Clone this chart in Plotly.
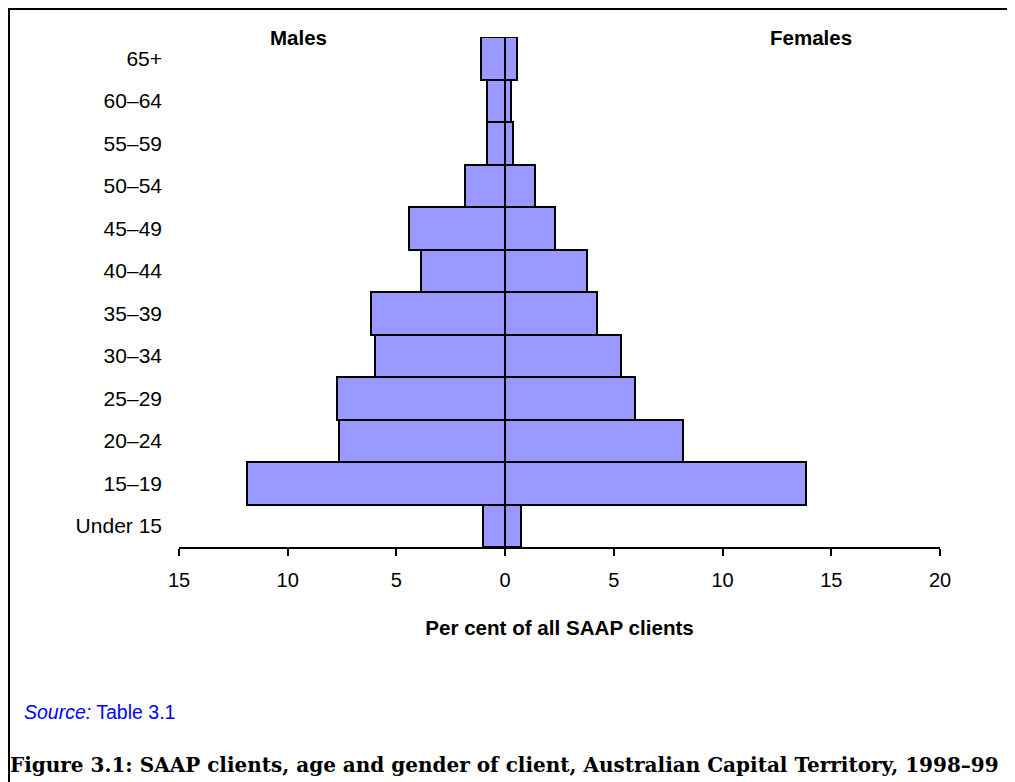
import plotly.graph_objects as go

age_groups = ["Under 15", "15–19", "20–24", "25–29", "30–34", "35–39",
              "40–44", "45–49", "50–54", "55–59", "60–64", "65+"]
males = [1.04, 11.89, 7.64, 7.73, 5.97, 6.15, 3.86, 4.41, 1.86, 0.83, 0.83, 1.10]
females = [0.74, 13.85, 8.17, 5.96, 5.35, 4.23, 3.77, 2.30, 1.38, 0.38, 0.25, 0.55]
tick_vals = [-15, -10, -5, 0, 5, 10, 15, 20]
tick_text = ["15", "10", "5", "0", "5", "10", "15", "20"]

# page body has an 8px margin; work in target-picture pixels and shift
OFF = 8
W, H = 1015 - OFF, 782 - OFF
L, R, T, B = 179 - OFF, 940 - OFF, 37 - OFF, 547 - OFF


def px(x):
    return (x - OFF - L) / (R - L)


def py(y):
    return (B - (y - OFF)) / (B - T)


fill = "#9999FF"
fig = go.Figure()
fig.add_trace(go.Bar(y=age_groups, x=[-m for m in males], orientation="h",
                     marker=dict(color=fill, line=dict(color="black", width=2)),
                     name="Males", showlegend=False))
fig.add_trace(go.Bar(y=age_groups, x=females, orientation="h",
                     marker=dict(color=fill, line=dict(color="black", width=2)),
                     name="Females", showlegend=False))

font = "Liberation Sans, Arial, sans-serif"
fig.update_layout(
    width=W, height=H,
    margin=dict(l=L, r=W - R, t=T, b=H - B, pad=0),
    barmode="relative", bargap=0,
    plot_bgcolor="white", paper_bgcolor="white",
    font=dict(family=font, size=20, color="black"),
    xaxis=dict(range=[-15, 20], tickvals=tick_vals, ticktext=tick_text,
               showgrid=False, zeroline=True, zerolinecolor="black", zerolinewidth=3,
               showline=True, linecolor="black", linewidth=2,
               ticks="outside", ticklen=7, tickwidth=2, tickcolor="black",
               tickfont=dict(size=20), ticklabelstandoff=7,
               title=dict(text="<b>Per cent of all SAAP clients</b>", font=dict(size=20.6), standoff=31)),
    yaxis=dict(categoryorder="array", categoryarray=age_groups, range=[-0.5, 11.5],
               showgrid=False, showline=False, zeroline=False, ticks="",
               tickfont=dict(size=21), ticklabelstandoff=16),
    annotations=[
        dict(text="<b>Males</b>", x=px(298), y=py(37), xref="paper", yref="paper",
             showarrow=False, xanchor="center", yanchor="middle", font=dict(size=20.5)),
        dict(text="<b>Females</b>", x=px(811), y=py(37), xref="paper", yref="paper",
             showarrow=False, xanchor="center", yanchor="middle", font=dict(size=20.5)),
        dict(text="<i>Source:</i> Table 3.1", x=px(22), y=py(712), xref="paper", yref="paper",
             showarrow=False, xanchor="left", yanchor="middle",
             font=dict(size=19.5, color="#0000FF")),
        dict(text="<b>Figure 3.1: SAAP clients, age and gender of client, Australian Capital Territory, 1998–99</b>",
             x=px(8), y=py(765), xref="paper", yref="paper",
             showarrow=False, xanchor="left", yanchor="middle",
             font=dict(size=20, family="DejaVu Serif, serif")),
    ],
    shapes=[
        dict(type="line", xref="paper", yref="paper", x0=px(9), x1=px(9), y0=py(8), y1=py(790),
             line=dict(color="black", width=2)),
        dict(type="line", xref="paper", yref="paper", x0=px(8), x1=px(1020), y0=py(9), y1=py(9),
             line=dict(color="black", width=2)),
    ],
)

fig.write_html("out.html")
